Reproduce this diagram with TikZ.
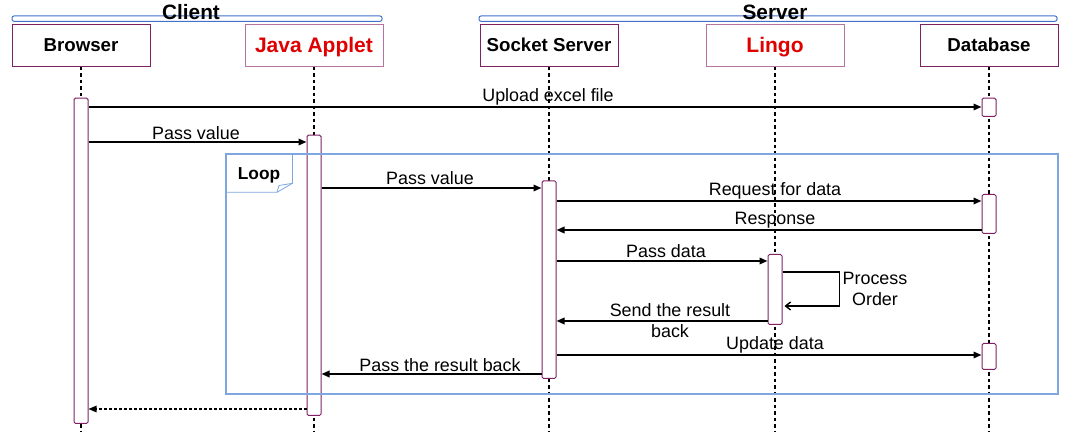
\documentclass[tikz,border=0pt]{standalone}
\usepackage{fontspec}
\setmainfont{Liberation Sans}
\usetikzlibrary{arrows.meta}
\definecolor{lifebox}{HTML}{7E2265}
\definecolor{lifeboxL}{HTML}{B574A0}
\definecolor{grpblue}{HTML}{3F72C8}
\definecolor{loopblue}{HTML}{7EA6E0}
\definecolor{redtxt}{HTML}{E00000}
\begin{document}
\begin{tikzpicture}[x=1pt,y=-1pt,
 head/.style={draw=lifebox, line width=1pt, minimum width=138pt, minimum height=41.7pt, inner sep=0pt,
   font=\fontsize{18.7}{20}\selectfont\bfseries, text height=13.4pt, text depth=0pt},
 headred/.style={head, draw=lifeboxL, text=redtxt, font=\fontsize{21}{22}\selectfont\bfseries, text height=15pt},
 act/.style={draw=lifebox, fill=white, line width=1pt, rounded corners=1.5pt, minimum width=14pt, inner sep=0pt, anchor=north},
 life/.style={line width=1.5pt, dash pattern=on 3.5pt off 3pt},
 msg/.style={line width=1.7pt, -{Triangle[length=8pt,width=6.5pt]}},
 lbl/.style={anchor=base, inner sep=0pt, font=\fontsize{17.9}{20}\selectfont},
 grp/.style={draw=grpblue, line width=1pt, rounded corners=2pt},
 grplbl/.style={anchor=base, inner sep=0pt, font=\fontsize{20.8}{22}\selectfont\bfseries},
]
\useasboundingbox (0,0) rectangle (1080,446);

% groups
\draw[grp] (12,16) rectangle (382,21.3);
\draw[grp] (479,16) rectangle (1057,21.3);
\node[grplbl] (gcl) at (191,20) {Client};
\node[grplbl] (gsv) at (775,20) {Server};

% heads
\node[head] (hBr) at (81,45.2) {Browser};
\node[headred] (hJa) at (314,45.2) {Java Applet};
\node[head] (hSo) at (549,45.2) {Socket Server};
\node[headred] (hLi) at (775,45.2) {Lingo};
\node[head] (hDB) at (989,45.2) {Database};

% lifelines
\foreach \h in {hBr,hJa,hSo,hLi,hDB}
  \draw[life] (\h.south) -- (\h.south |- 0,431);

% activations
\node[act, minimum height=325.3pt] (aBr) at (81,97.7) {};
\node[act, minimum height=280.3pt] (aJa) at (314,134.7) {};
\node[act, minimum height=197.7pt] (aSo) at (549,180.3) {};
\node[act, minimum height=70pt] (aLi) at (775,254) {};
\node[act, minimum height=18.3pt] (aDB1) at (989,97.7) {};
\node[act, minimum height=39pt] (aDB2) at (989,194) {};
\node[act, minimum height=26pt] (aDB3) at (989,343) {};

% loop frame
\draw[loopblue, line width=1.5pt] (226,154) rectangle (1058,394);
\draw[loopblue, line width=0.8pt] (226,192.3) -- (277,192.3) -- (292.5,183.3) -- (292.5,154);
\draw[loopblue, line width=0.8pt] (277,192.3) -- (279,185.5) -- (292.5,183.3);
\node[anchor=base, inner sep=0pt, font=\fontsize{17.3}{19}\selectfont\bfseries] (lLoop) at (259,180) {Loop};

% messages
\draw[msg] (aBr.east |- 0,107) -- (aDB1.west |- 0,107);
\node[lbl] (l1) at (548,101.7) {Upload excel file};
\draw[msg] (aBr.east |- 0,142) -- (aJa.west |- 0,142);
\node[lbl] (l2) at (196,139.3) {Pass value};
\draw[msg] (aJa.east |- 0,188) -- (aSo.west |- 0,188);
\node[lbl] (l3) at (430,185) {Pass value};
\draw[msg] (aSo.east |- 0,201) -- (aDB2.west |- 0,201);
\node[lbl] (l4) at (775,195.7) {Request for data};
\draw[msg] (aDB2.west |- 0,230) -- (aSo.east |- 0,230);
\node[lbl] (l5) at (775,225) {Response};
\draw[msg] (aSo.east |- 0,261) -- (aLi.west |- 0,261);
\node[lbl] (l6) at (666,257.3) {Pass data};
\draw[line width=1.4pt, -{Straight Barb[length=5pt,width=8pt]}, shorten >=2pt]
  (aLi.east |- 0,272) -- ++(57,0) -- ++(0,34) -- (aLi.east |- 0,306);
\node[lbl] (l7a) at (875,285) {Process};
\node[lbl] (l7b) at (875,305.7) {Order};
\draw[msg] (aLi.west |- 0,321) -- (aSo.east |- 0,321);
\node[lbl] (l8a) at (670,316.7) {Send the result};
\node[lbl] (l8b) at (670,337.3) {back};
\draw[msg] (aSo.east |- 0,355) -- (aDB3.west |- 0,355);
\node[lbl] (l9) at (775,350) {Update data};
\draw[msg] (aSo.west |- 0,374) -- (aJa.east |- 0,374);
\node[lbl] (l10) at (440,371.7) {Pass the result back};
\draw[line width=1.2pt, dash pattern=on 3pt off 2pt, -{Triangle[length=8pt,width=6.5pt]}]
  (aJa.west |- 0,409) -- (aBr.east |- 0,409);
\end{tikzpicture}
\end{document}
